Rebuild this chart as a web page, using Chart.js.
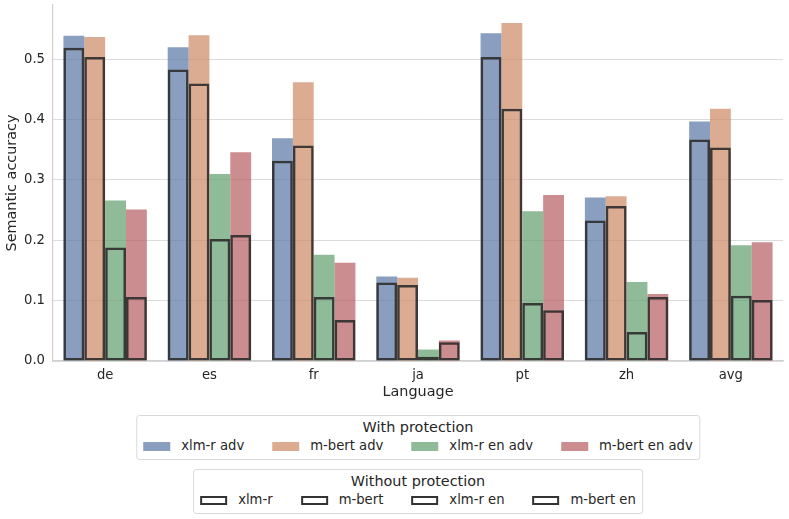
<!DOCTYPE html>
<html>
<head>
<meta charset="utf-8">
<script src="https://cdn.jsdelivr.net/npm/chart.js@4.4.1/dist/chart.umd.min.js"></script>
<style>
  body { margin: 0; background: #fff; font-family: "DejaVu Sans", sans-serif; color: #262626; }
  #wrap { position: relative; width: 789px; height: 519px; }
  .legend {
    position: absolute; transform: translateX(-50%);
    border: 1px solid #d9d9d9; border-radius: 3px; background: #fff;
    padding: 2px 6px 4px 6px; font-size: 13.2px; white-space: nowrap;
  }
  .legend .title { text-align: center; line-height: 19px; font-size: 14.4px; }
  .legend .row { display: flex; align-items: center; line-height: 18px; }
  .legend .item { display: flex; align-items: center; margin-right: 28px; }
  .legend .item:last-child { margin-right: 0; }
  .legend .patch { width: 27px; height: 9px; margin-right: 11px; box-sizing: border-box; }
  .legend .patch.line { border: 2px solid #333; }
</style>
</head>
<body>
<div id="wrap">
  <canvas id="chart" width="789" height="519"></canvas>
  <div class="legend" id="leg1" style="left:418px; top:415px;"></div>
  <div class="legend" id="leg2" style="left:418px; top:469px;"></div>
</div>
<script>
// languages on the x axis
var languages = ["de", "es", "fr", "ja", "pt", "zh", "avg"];

// With protection (filled bars)
var xlmrAdv     = [0.539, 0.520, 0.369, 0.140, 0.543, 0.271, 0.397];
var mbertAdv    = [0.537, 0.540, 0.462, 0.138, 0.560, 0.273, 0.418];
var xlmrEnAdv   = [0.266, 0.310, 0.176, 0.019, 0.248, 0.131, 0.192];
var mbertEnAdv  = [0.251, 0.346, 0.163, 0.034, 0.275, 0.111, 0.197];

// Without protection (outlined bars)
var xlmr     = [0.519, 0.483, 0.332, 0.130, 0.504, 0.233, 0.367];
var mbert    = [0.504, 0.460, 0.357, 0.126, 0.418, 0.257, 0.354];
var xlmrEn   = [0.188, 0.202, 0.106, 0.007, 0.096, 0.048, 0.108];
var mbertEn  = [0.106, 0.209, 0.068, 0.031, 0.084, 0.106, 0.101];

var yTicks = [0, 0.1, 0.2, 0.3, 0.4, 0.5];

var withNames = ["xlm-r adv", "m-bert adv", "xlm-r en adv", "m-bert en adv"];
var withoutNames = ["xlm-r", "m-bert", "xlm-r en", "m-bert en"];
// seaborn "deep" desaturated, alpha 0.7
var colors = ["rgba(89,117,164,0.7)", "rgba(204,137,99,0.7)", "rgba(95,158,110,0.7)", "rgba(181,93,96,0.7)"];

var withData = [xlmrAdv, mbertAdv, xlmrEnAdv, mbertEnAdv];
var withoutData = [xlmr, mbert, xlmrEn, mbertEn];

var datasets = [];
withData.forEach(function (d, i) {
  datasets.push({
    label: withNames[i],
    data: d,
    stack: "g" + i,
    backgroundColor: colors[i],
    borderWidth: 0,
    order: 2,
    categoryPercentage: 0.8,
    barPercentage: 1.0
  });
});
withoutData.forEach(function (d, i) {
  datasets.push({
    label: withoutNames[i],
    data: d,
    stack: "g" + i,
    backgroundColor: "rgba(0,0,0,0)",
    borderColor: "rgba(45,45,45,0.9)",
    borderWidth: 2.5,
    borderSkipped: false,
    order: 1,
    categoryPercentage: 0.8,
    barPercentage: 1.0
  });
});

var tickFont = { family: "DejaVu Sans", size: 13.2 };
var labelFont = { family: "DejaVu Sans", size: 14.4 };

new Chart(document.getElementById("chart"), {
  type: "bar",
  data: { labels: languages, datasets: datasets },
  options: {
    responsive: false,
    animation: false,
    layout: { padding: { top: 5, right: 6, bottom: 118, left: 0 } },
    plugins: { legend: { display: false }, tooltip: { enabled: false } },
    scales: {
      x: {
        offset: true,
        grid: { display: false, drawTicks: false },
        border: { display: true, color: "#d0d0d0", width: 1.2 },
        ticks: { color: "#262626", font: tickFont, padding: 7 },
        title: { display: true, text: "Language", color: "#262626", font: labelFont, padding: { top: 0, bottom: 0 } },
        afterFit: function (s) { s.height = 40; }
      },
      y: {
        min: 0,
        max: 0.59,
        stacked: false,
        grid: { color: "#dcdcdc", lineWidth: 1, drawTicks: false },
        border: { display: true, color: "#d0d0d0", width: 1.2 },
        afterBuildTicks: function (s) {
          s.ticks = yTicks.map(function (v) { return { value: v }; });
        },
        ticks: {
          color: "#262626", font: tickFont, padding: 8,
          callback: function (v) { return v.toFixed(1); }
        },
        title: { display: true, text: "Semantic accuracy", color: "#262626", font: labelFont, padding: { top: 4, bottom: 0 } },
        afterFit: function (s) { s.width = 53; s.paddingTop = 0; s.paddingBottom = 0; }
      }
    }
  }
});

// the two legends
function buildLegend(el, title, names, styleFn) {
  var html = '<div class="title">' + title + '</div><div class="row">';
  names.forEach(function (n, i) {
    html += '<div class="item">' + styleFn(i) + '<span>' + n + '</span></div>';
  });
  html += '</div>';
  el.innerHTML = html;
}
buildLegend(document.getElementById("leg1"), "With protection", withNames, function (i) {
  return '<span class="patch" style="background:' + colors[i] + '"></span>';
});
buildLegend(document.getElementById("leg2"), "Without protection", withoutNames, function () {
  return '<span class="patch line"></span>';
});
</script>
</body>
</html>
